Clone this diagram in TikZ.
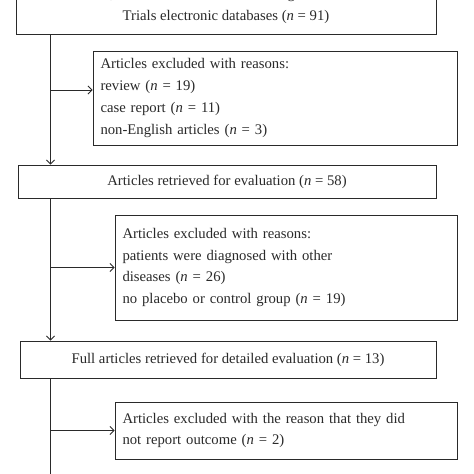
\documentclass[tikz,border=0pt]{standalone}
\usepackage{fontspec}
\setmainfont{Liberation Serif}
\usetikzlibrary{arrows.meta,calc}
\definecolor{ink}{HTML}{2A2A2A}
\tikzset{
  flowbox/.style={draw=ink, line width=0.9pt, text=ink, inner xsep=0pt, inner ysep=0pt,
     font=\fontsize{14.7}{21.5}\selectfont, align=center},
  exbox/.style={draw=ink, line width=0.9pt, text=ink, inner xsep=7.5pt, inner ysep=0pt,
     font=\fontsize{14.7}{21.7}\selectfont, align=left},
  conn/.style={draw=ink, line width=0.9pt},
  arr/.style={conn, -{Straight Barb[length=4pt,width=8pt,line width=0.8pt]}}
}
\newcommand{\nn}{\textit{n}}
\begin{document}
\begin{tikzpicture}[x=1pt,y=-1pt]
\clip (0,0) rectangle (474,474);
\fill[white] (0,0) rectangle (474,474);
\coordinate (xline) at (50.5,0);
\coordinate (bottom) at (50.5,480);
\node[flowbox, minimum width=420pt, minimum height=56pt] (b1) at (226,6)
  {AMED, and the Cochrane Central Register of Control\\Trials electronic databases (\nn{} = 91)};
\node[exbox, text width=349pt, minimum height=94pt] (e1) at (275,98)
  {Articles excluded with reasons:\\review (\nn{} = 19)\\case report (\nn{} = 11)\\non-English articles (\nn{} = 3)};
\node[flowbox, minimum width=418pt, minimum height=33pt] (b2) at (227,181.5)
  {Articles retrieved for evaluation (\nn{} = 58)};
\node[exbox, text width=327pt, minimum height=105pt] (e2) at (286,267.5)
  {Articles excluded with reasons:\\patients were diagnosed with other\\diseases (\nn{} = 26)\\no placebo or control group (\nn{} = 19)};
\node[flowbox, minimum width=416pt, minimum height=37pt] (b3) at (228,359.5)
  {Full articles retrieved for detailed evaluation (\nn{} = 13)};
\node[exbox, text width=327pt, minimum height=57pt] (e3) at (286,430.5)
  {Articles excluded with the reason that they did\\not report outcome (\nn{} = 2)};
\coordinate (a1) at ($(e1.west)+(0,-8)$);
\draw[arr] (b1.south -| xline) -- (b2.north -| xline);
\draw[arr] (a1 -| xline) -- (a1);
\draw[arr] (b2.south -| xline) -- (b3.north -| xline);
\draw[arr] (e2.west -| xline) -- (e2.west);
\draw[conn] (b3.south -| xline) -- (bottom);
\draw[arr] (e3.west -| xline) -- (e3.west);
\end{tikzpicture}
\end{document}
